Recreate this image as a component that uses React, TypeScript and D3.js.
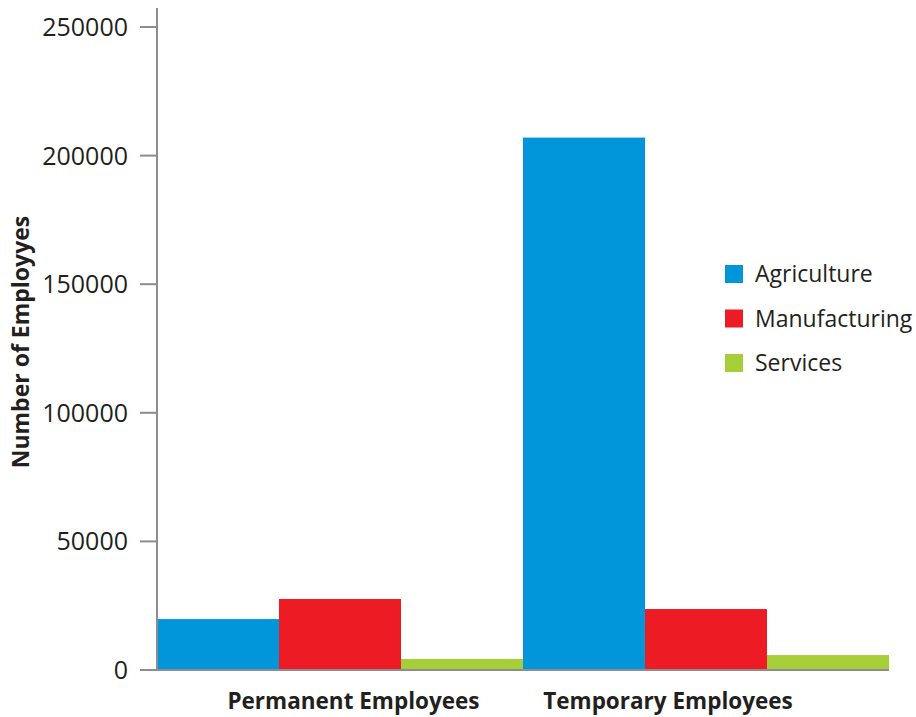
import React from "react";
import * as d3 from "d3";

const categories = ["Permanent Employees", "Temporary Employees"];
const seriesNames = ["Agriculture", "Manufacturing", "Services"];
const agriculture = [19800, 207000];
const manufacturing = [27600, 23700];
const services = [4300, 5800];
const yTicks = [0, 50000, 100000, 150000, 200000, 250000];
const colors = ["#0096d9", "#ed1c24", "#a6ce39"];

const W = 916;
const H = 717;
const left = 157;
const right = 889;
const top = 27;
const bottom = 670;
const font = "'Open Sans', sans-serif";
const textColor = "#231f20";
const axisColor = "#8c8c91";

export default function App() {
  const values = [agriculture, manufacturing, services];
  const x0 = d3.scaleBand<string>().domain(categories).range([left, right]).paddingInner(0).paddingOuter(0);
  const x1 = d3.scaleBand<string>().domain(seriesNames).range([0, x0.bandwidth()]).padding(0);
  const y = d3.scaleLinear().domain([0, 250000]).range([bottom, top]);
  const labelX = d3.scalePoint<string>().domain(categories).range([353.5, 668]);
  const legendY = d3.scalePoint<string>().domain(seriesNames).range([274, 363]);

  return (
    <svg width={W} height={H} style={{ position: "absolute", left: 0, top: 0, background: "#fff" }}>
      {categories.map((c, ci) =>
        seriesNames.map((s, si) => {
          const v = values[si][ci];
          return (
            <rect
              key={c + s}
              x={(x0(c) as number) + (x1(s) as number)}
              y={y(v)}
              width={x1.bandwidth()}
              height={bottom - y(v)}
              fill={colors[si]}
            />
          );
        })
      )}
      {/* y axis */}
      <line x1={left} x2={left} y1={8} y2={bottom} stroke={axisColor} strokeWidth={2} />
      <line x1={140} x2={right} y1={bottom} y2={bottom} stroke={axisColor} strokeWidth={2} />
      {yTicks.map((t) => (
        <g key={t}>
          <line x1={140} x2={left} y1={y(t)} y2={y(t)} stroke={axisColor} strokeWidth={2} />
          <text
            x={128}
            y={y(t)}
            dy="0.36em"
            textAnchor="end"
            fontFamily={font}
            fontSize={25}
            fill={textColor}
          >
            {t}
          </text>
        </g>
      ))}
      <text
        transform={`translate(29, 342) rotate(-90)`}
        textAnchor="middle"
        fontFamily={font}
        fontWeight="bold"
        fontSize={23}
        fill={textColor}
      >
        Number of Employyes
      </text>
      {categories.map((c) => (
        <text
          key={c}
          x={labelX(c)}
          y={709}
          textAnchor="middle"
          fontFamily={font}
          fontWeight="bold"
          fontSize={22.5}
          fill={textColor}
        >
          {c}
        </text>
      ))}
      {seriesNames.map((s, i) => (
        <g key={s}>
          <rect x={725} y={(legendY(s) as number) - 9} width={18} height={18} fill={colors[i]} />
          <text
            x={755}
            y={legendY(s)}
            dy="0.36em"
            fontFamily={font}
            fontSize={23}
            fill={textColor}
          >
            {s}
          </text>
        </g>
      ))}
    </svg>
  );
}
